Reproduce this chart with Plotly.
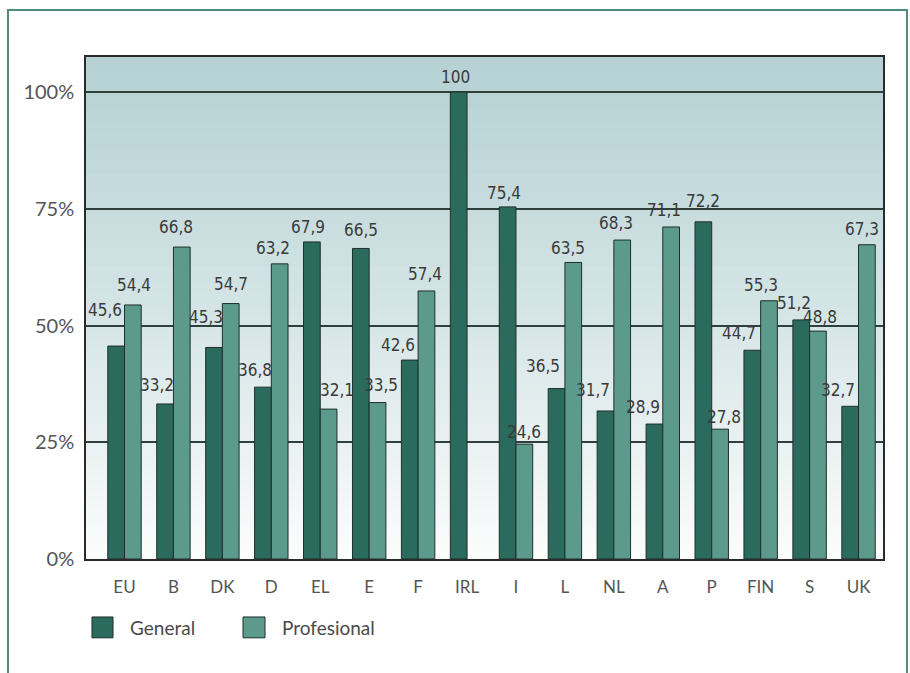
import plotly.graph_objects as go

categories = ["EU", "B", "DK", "D", "EL", "E", "F", "IRL", "I", "L", "NL", "A", "P", "FIN", "S", "UK"]
general = [45.6, 33.2, 45.3, 36.8, 67.9, 66.5, 42.6, 100, 75.4, 36.5, 31.7, 28.9, 72.2, 44.7, 51.2, 32.7]
profesional = [54.4, 66.8, 54.7, 63.2, 32.1, 33.5, 57.4, None, 24.6, 63.5, 68.3, 71.1, 27.8, 55.3, 48.8, 67.3]
series_names = ["General", "Profesional"]
y_ticks = [0, 25, 50, 75, 100]
y_tick_labels = ["0%", "25%", "50%", "75%", "100%"]

# label placement tweaks (pixels): horizontal shift from bar centre, height of label centre above bar top
gen_dx = [-11, -8, -8, -8, -4, 0, -12, -3, -3, -13, -12, -11, 0, -13, -7, -12]
gen_dy = [36, 19, 30, 17, 15, 18, 15, 15, 14, 23, 21, 17, 21, 17, 17, 16]
pro_dx = [1, -6, 0, -7, 8, 3, -2, 0, 0, -5, -6, -7, 4, -8, 2, -5]
pro_dy = [20, 20, 20, 16, 19, 18, 17, 0, 12, 14, 17, 17, 12, 16, 14, 16]

COL_GEN = "#2b6b5d"
COL_PRO = "#5c9b8b"
OUTLINE = "#1f2f2b"
LABEL_FONT = dict(family="Liberation Sans Narrow, DejaVu Sans Condensed, Roboto, sans-serif", size=17, color="#3a3a3a")
AXIS_FONT = "Lato, Noto Sans, sans-serif"

fig = go.Figure()
fig.add_trace(go.Bar(x=categories, y=general, name=series_names[0], marker=dict(color=COL_GEN, line=dict(color=OUTLINE, width=1))))
fig.add_trace(go.Bar(x=categories, y=profesional, name=series_names[1], marker=dict(color=COL_PRO, line=dict(color=OUTLINE, width=1))))


def fmt(v):
    return ("%g" % v).replace(".", ",")


annotations = []
half = 8.5
for i, c in enumerate(categories):
    v = general[i]
    if v is not None:
        annotations.append(dict(x=c, y=v, xref="x", yref="y", text=fmt(v), showarrow=False,
                                xshift=-half + gen_dx[i], yshift=gen_dy[i], yanchor="middle",
                                font=LABEL_FONT))
    v = profesional[i]
    if v is not None:
        annotations.append(dict(x=c, y=v, xref="x", yref="y", text=fmt(v), showarrow=False,
                                xshift=half + pro_dx[i], yshift=pro_dy[i], yanchor="middle",
                                font=LABEL_FONT))

# manual legend
leg_y0, leg_y1 = -0.157, -0.1155
legend_items = [(series_names[0], COL_GEN, 0.0075, 0.0339, 0.0527),
                (series_names[1], COL_PRO, 0.197, 0.2246, 0.2434)]
shapes = []
for name, col, x0, x1, xt in legend_items:
    shapes.append(dict(type="rect", xref="paper", yref="paper", x0=x0, x1=x1, y0=leg_y0, y1=leg_y1,
                       fillcolor=col, line=dict(color=OUTLINE, width=1)))
    annotations.append(dict(x=xt, y=(leg_y0 + leg_y1) / 2, xref="paper", yref="paper", text=name,
                            showarrow=False, xanchor="left", yanchor="middle",
                            font=dict(family=AXIS_FONT, size=19, color="#4a4a4a")))

# background vertical gradient (plot area)
stops = [(0.0, (252, 253, 253)), (0.2, (236, 242, 243)), (0.45, (216, 231, 232)),
         (0.7, (199, 220, 222)), (1.0, (181, 209, 211))]


def grad(t):
    for (t0, c0), (t1, c1) in zip(stops[:-1], stops[1:]):
        if t0 <= t <= t1:
            f = (t - t0) / (t1 - t0)
            return "rgb(%d,%d,%d)" % tuple(round(a + (b - a) * f) for a, b in zip(c0, c1))
    return "rgb(%d,%d,%d)" % stops[-1][1]


n = 60
for k in range(n):
    shapes.append(dict(type="rect", xref="x domain", yref="y domain", x0=0, x1=1,
                       y0=k / n, y1=(k + 1) / n + 0.002, fillcolor=grad((k + 0.5) / n),
                       line=dict(width=0), layer="below"))

# outer frame
shapes.append(dict(type="rect", xref="paper", yref="paper", x0=-0.0979, x1=1.0301, y0=-0.26, y1=1.0936,
                   line=dict(color="#4e8c7d", width=2), fillcolor="rgba(0,0,0,0)"))

fig.update_layout(
    width=910, height=673,
    margin=dict(l=86, r=27, t=57, b=114),
    paper_bgcolor="white", plot_bgcolor="white",
    barmode="group", bargap=0.317, bargroupgap=0,
    showlegend=False,
    shapes=shapes, annotations=annotations,
    font=dict(family=AXIS_FONT, color="#555555"),
)
fig.update_xaxes(type="category", showline=True, mirror=True, linecolor="#2a2a2a", linewidth=1.5,
                 showgrid=False, ticks="", tickfont=dict(family=AXIS_FONT, size=17, color="#555555"),
                 ticklabelstandoff=12)
fig.update_yaxes(range=[0, 107.5], tickvals=y_ticks, ticktext=y_tick_labels, showline=True, mirror=True,
                 linecolor="#2a2a2a", linewidth=1.5, showgrid=True, gridcolor="#2f3f3b", gridwidth=1.5,
                 zeroline=False, ticks="", tickfont=dict(family=AXIS_FONT, size=20, color="#555555"),
                 ticklabelstandoff=6)

fig.write_html("out.html", config={"displayModeBar": False},
               post_script="document.body.style.margin='0';document.body.style.overflow='hidden';")
